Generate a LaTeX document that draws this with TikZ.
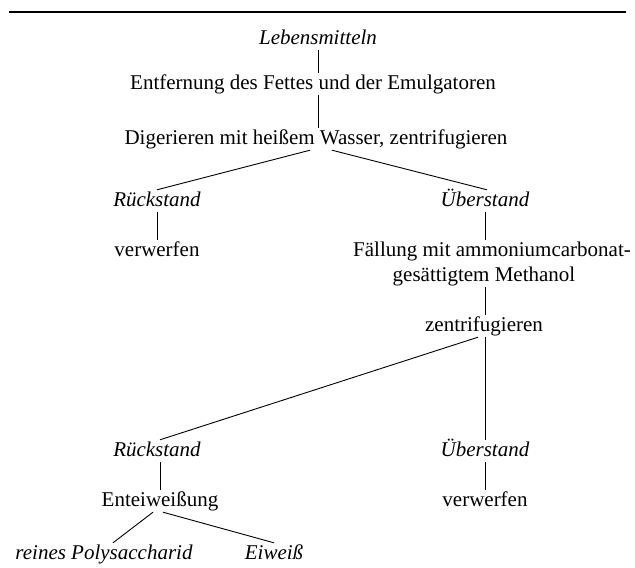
\documentclass[tikz,border=0pt]{standalone}
\usepackage{fontspec}
\setmainfont{Liberation Serif}
\begin{document}
\begin{tikzpicture}[x=1pt,y=-1pt,
  lbl/.style={anchor=base,inner sep=2pt,text height=14pt,text depth=4pt,font=\fontsize{21}{25}\selectfont},
  it/.style={lbl,font=\fontsize{21}{25}\selectfont\itshape},
  conn/.style={line width=0.9pt}]
\useasboundingbox (0,0) rectangle (635,568);
\draw[line width=1.2pt] (9,12) coordinate (rl) -- (626,12) coordinate (rr);
\node[it] (leb) at (318,44) {Lebensmitteln};
\node[lbl] (ent) at (313,89) {Entfernung des Fettes und der Emulgatoren};
\node[lbl] (dig) at (316,144) {Digerieren mit heißem Wasser, zentrifugieren};
\node[it] (r1) at (157,206) {Rückstand};
\node[it] (u1) at (485,206) {Überstand};
\node[lbl] (v1) at (157,256) {verwerfen};
\node[lbl] (fa) at (492,256) {Fällung mit ammoniumcarbonat-};
\node[lbl] (fb) at (484,281) {gesättigtem Methanol};
\node[lbl] (zen) at (484,331) {zentrifugieren};
\node[it] (r2) at (157,456) {Rückstand};
\node[it] (u2) at (485,456) {Überstand};
\node[lbl] (ew) at (160,506) {Enteiweißung};
\node[lbl] (v2) at (485,506) {verwerfen};
\node[it] (rp) at (104,559) {reines Polysaccharid};
\node[it] (eiw) at (274,559) {Eiweiß};
% connectors
\draw[conn] (leb.south -| 318,0) -- (318,0 |- ent.north);
\draw[conn] (ent.south -| 318,0) -- (318,0 |- dig.north);
\draw[conn] ([xshift=-6pt]dig.south) -- (r1.north);
\draw[conn] ([xshift=16pt]dig.south) -- ([xshift=2pt]u1.north);
\draw[conn] (r1.south) -- (v1.north);
\draw[conn] (u1.south) -- (u1.south |- fa.north);
\draw[conn] (fb.south -| u1.south) -- (u1.south |- zen.north);
\draw[conn] ([xshift=-6pt]zen.south) -- ([xshift=3pt]r2.north);
\draw[conn] (zen.south -| u1.south) -- (u2.north);
\draw[conn] (r2.south -| ew.north) -- (ew.north);
\draw[conn] (u2.south) -- (v2.north);
\draw[conn] ([xshift=-7pt]ew.south) -- ([xshift=9pt]rp.north);
\draw[conn] ([xshift=3pt]ew.south) -- (eiw.north);
\end{tikzpicture}
\end{document}
